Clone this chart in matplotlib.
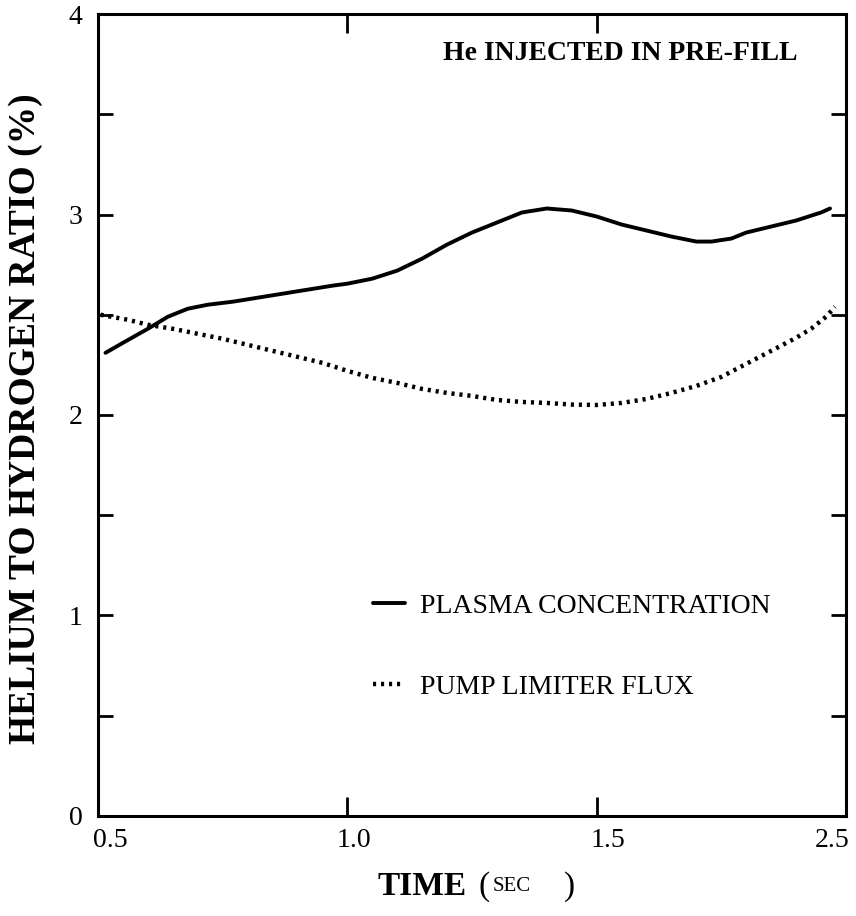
import matplotlib
matplotlib.use("Agg")
import matplotlib.pyplot as plt
import matplotlib.transforms as mtransforms
from matplotlib.ticker import MultipleLocator, FixedLocator

# values
plasma_t = [0.515, 0.55, 0.60, 0.64, 0.68, 0.72, 0.77, 0.82, 0.87, 0.92, 0.97,
            1.00, 1.05, 1.10, 1.15, 1.20, 1.25, 1.30, 1.35, 1.40, 1.45, 1.50,
            1.55, 1.60, 1.65, 1.70, 1.73, 1.77, 1.80, 1.85, 1.90, 1.95, 1.968]
plasma_ratio = [2.31, 2.36, 2.43, 2.49, 2.53, 2.55, 2.565, 2.585, 2.605, 2.625, 2.645,
                2.655, 2.68, 2.72, 2.78, 2.85, 2.91, 2.96, 3.01, 3.03, 3.02, 2.99,
                2.95, 2.92, 2.89, 2.865, 2.865, 2.88, 2.91, 2.94, 2.97, 3.01, 3.03]

flux_t = [0.505, 0.56, 0.60, 0.65, 0.70, 0.75, 0.80, 0.85, 0.90, 0.95, 1.00,
          1.05, 1.10, 1.15, 1.20, 1.25, 1.30, 1.35, 1.40, 1.45, 1.50, 1.55,
          1.60, 1.65, 1.70, 1.75, 1.80, 1.85, 1.90, 1.93, 1.96, 1.978]
flux_ratio = [2.50, 2.475, 2.45, 2.43, 2.405, 2.38, 2.35, 2.32, 2.29, 2.26, 2.22,
              2.185, 2.16, 2.13, 2.11, 2.095, 2.075, 2.065, 2.06, 2.052, 2.05, 2.06,
              2.08, 2.11, 2.145, 2.19, 2.255, 2.32, 2.385, 2.43, 2.49, 2.54]

# the original figure labels its last tick "2.5"
xtick_pos = [0.5, 1.0, 1.5, 2.0]
xtick_labels = ["0.5", "1.0", "1.5", "2.5"]
ytick_pos = [0, 1, 2, 3, 4]

SERIF = ["Liberation Serif", "DejaVu Serif"]
plt.rcParams["font.family"] = SERIF

fig = plt.figure(figsize=(8.56, 9.16), dpi=100)
ax = fig.add_axes([0.1145, 0.1092, 0.8738, 0.8755])

ax.plot(plasma_t, plasma_ratio, color="black", lw=2.8, solid_capstyle="round",
        solid_joinstyle="round", label="PLASMA CONCENTRATION")
ax.plot(flux_t, flux_ratio, color="black", lw=3.2, linestyle=(0, (0.7, 1.1)),
        dash_capstyle="butt", label="PUMP LIMITER FLUX")

ax.set_xlim(0.5, 2.0)
ax.set_ylim(0, 4)

for sp in ax.spines.values():
    sp.set_linewidth(2.2)

ax.xaxis.set_major_locator(FixedLocator(xtick_pos))
ax.set_xticklabels(xtick_labels)
ax.yaxis.set_major_locator(FixedLocator(ytick_pos))
ax.yaxis.set_minor_locator(MultipleLocator(0.5))

ax.tick_params(axis="both", which="both", direction="in", width=2.0,
               labelsize=20, colors="black")
ax.tick_params(axis="x", which="major", length=14, top=True, pad=9)
ax.tick_params(axis="y", which="major", length=11, right=True, pad=11)
ax.tick_params(axis="y", which="minor", length=11, right=True)

# nudge x tick labels the way they sit in the scan (pixels)
for lab, dx in zip(ax.get_xticklabels(), [12, 7, 11, -14]):
    lab.set_transform(lab.get_transform()
                      + mtransforms.ScaledTranslation(dx / 100, 0, fig.dpi_scale_trans))

ax.text(0.461, 0.951, "He INJECTED IN PRE-FILL", transform=ax.transAxes,
        fontsize=20, fontweight="bold", ha="left", va="center")

ax.legend(loc="upper left", bbox_to_anchor=(0.368, 0.2775), frameon=False,
          fontsize=20, handlelength=1.15, handletextpad=0.55,
          labelspacing=2.0, borderpad=0, borderaxespad=0)

fig.text(0.030, 0.5426, "HELIUM TO HYDROGEN RATIO (%)", rotation=90,
         fontsize=27, fontweight="bold", ha="center", va="center")

base = 0.0229
fig.text(378 / 856, base, "TIME", fontsize=24, fontweight="bold",
         ha="left", va="baseline")
fig.text(478 / 856, base, "(", fontsize=24, ha="left", va="baseline")
fig.text(493 / 856, base + 0.004, "SEC", fontsize=15, ha="left", va="baseline")
fig.text(564 / 856, base, ")", fontsize=24, ha="left", va="baseline")

fig.savefig("out.png", dpi=100)
